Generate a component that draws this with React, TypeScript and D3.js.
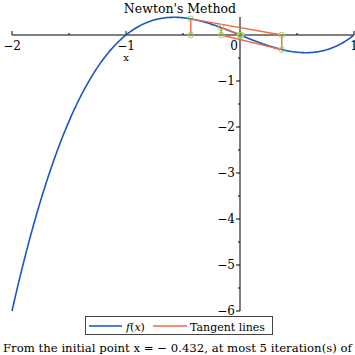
import React from "react";
import * as d3 from "d3";

// Polynomial coefficients of f(x) = x^3 - x (highest degree first)
const coefficients = [1, 0, -1, 0];
const initialPoint = -0.432;
const iterations = 5;
const xDomain = [-2, 1];
const yDomain = [0, -6];
const xMajorTicks = [-2, -1, 0, 1];
const xMinorTicks = [-1.5, -0.5, 0.5];
const yMajorTicks = [-1, -2, -3, -4, -5, -6];
const yMinorTicks = [-0.5, -1.5, -2.5, -3.5, -4.5, -5.5];
const legendLabels = ["f(x)", "Tangent lines"];
const title = "Newton's Method";
const captionStart = "From the initial point ";
const captionEnd =
  " = \u2212 0.432, at most 5 iteration(s) of Newton's method were applied.";

const f = (x: number) => coefficients.reduce((acc, c) => acc * x + c, 0);
const df = (x: number) => {
  const n = coefficients.length - 1;
  return coefficients
    .slice(0, n)
    .reduce((acc, c, i) => acc * x + c * (n - i), 0);
};

const BLUE = "#1a55c4";
const ORANGE = "#f4673f";
const GREEN = "#86e06a";
const FONT = "'DejaVu Serif', 'Liberation Serif', serif";

export default function App() {
  const x = d3.scaleLinear().domain(xDomain).range([12, 354]);
  const y = d3.scaleLinear().domain(yDomain).range([35, 311]);

  const samples = d3.range(0, 401).map((i) => {
    const xv = xDomain[0] + ((xDomain[1] - xDomain[0]) * i) / 400;
    return [xv, f(xv)] as [number, number];
  });
  const line = d3
    .line<[number, number]>()
    .x((d) => x(d[0]))
    .y((d) => y(d[1]));

  // Newton iterations
  const xs: number[] = [initialPoint];
  for (let i = 0; i < iterations; i++) {
    const xn = xs[xs.length - 1];
    const d = df(xn);
    if (d === 0) break;
    xs.push(xn - f(xn) / d);
  }
  const segments: [number, number, number, number][] = [];
  for (let i = 0; i < xs.length; i++) {
    segments.push([xs[i], 0, xs[i], f(xs[i])]);
    if (i < xs.length - 1) segments.push([xs[i], f(xs[i]), xs[i + 1], 0]);
  }

  const x0 = x(0);
  const y0 = y(0);

  const fmt = (v: number) => (v < 0 ? "\u2212" + Math.abs(v) : String(v));
  const ts = { fontFamily: FONT } as React.CSSProperties;

  return (
    <svg
      width={355}
      height={355}
      style={{ position: "absolute", left: 0, top: 0, background: "#fff", fontFamily: FONT }}
    >
      <rect width={355} height={355} fill="#fff" />
      {/* axes */}
      <line x1={x(xDomain[0])} x2={x(xDomain[1])} y1={y0} y2={y0} stroke="#000" strokeWidth={1} />
      <line x1={x0} x2={x0} y1={17} y2={y(-6)} stroke="#000" strokeWidth={1} />
      {xMajorTicks.map((t) => (
        <line key={"xm" + t} x1={x(t)} x2={x(t)} y1={y0} y2={y0 - 4} stroke="#000" />
      ))}
      {xMinorTicks.map((t) => (
        <line key={"xn" + t} x1={x(t)} x2={x(t)} y1={y0} y2={y0 - 2} stroke="#000" />
      ))}
      {yMajorTicks.map((t) => (
        <line key={"ym" + t} x1={x0} x2={x0 - 4} y1={y(t)} y2={y(t)} stroke="#000" />
      ))}
      {yMinorTicks.map((t) => (
        <line key={"yn" + t} x1={x0} x2={x0 - 2} y1={y(t)} y2={y(t)} stroke="#000" />
      ))}
      {xMajorTicks.map((t) => (
        <text
          key={"xl" + t}
          x={t === 0 ? x(t) - 6 : x(t)}
          y={50}
          fontSize={12}
          textAnchor="middle"
          style={ts}
        >
          {fmt(t)}
        </text>
      ))}
      {yMajorTicks.map((t) => (
        <text
          key={"yl" + t}
          x={x0 - 5}
          y={y(t) + 4}
          fontSize={12}
          textAnchor="end"
          style={ts}
        >
          {fmt(t)}
        </text>
      ))}
      <text x={126} y={61} fontSize={10} textAnchor="middle" style={ts}>
        x
      </text>
      {/* curve */}
      <path d={line(samples) || ""} fill="none" stroke={BLUE} strokeWidth={1.6} />
      {/* tangent lines */}
      {segments.map((s, i) => (
        <line
          key={"s" + i}
          x1={x(s[0])}
          y1={y(s[1])}
          x2={x(s[2])}
          y2={y(s[3])}
          stroke={ORANGE}
          strokeWidth={1.4}
        />
      ))}
      {xs.map((xv, i) => (
        <g key={"p" + i}>
          <circle cx={x(xv)} cy={y0} r={2.8} fill="none" stroke={GREEN} strokeWidth={1} />
          <circle cx={x(xv)} cy={y(f(xv))} r={2.8} fill="none" stroke={GREEN} strokeWidth={1} />
        </g>
      ))}
      {/* title */}
      <text x={180} y={13} fontSize={12.5} textAnchor="middle" style={ts}>
        {title}
      </text>
      {/* legend */}
      <rect x={85.5} y={316.5} width={187} height={18} fill="#fff" stroke="#444" strokeWidth={1} />
      <line x1={89} x2={122} y1={326} y2={326} stroke={BLUE} strokeWidth={1.6} />
      <text x={126} y={330.5} fontSize={11} style={ts}>
        <tspan fontStyle="italic">f</tspan>
        <tspan>(</tspan>
        <tspan fontStyle="italic">x</tspan>
        <tspan>)</tspan>
      </text>
      <line x1={153} x2={187} y1={326} y2={326} stroke={ORANGE} strokeWidth={1.6} />
      <text x={190} y={330.5} fontSize={11} style={ts}>
        {legendLabels[1]}
      </text>
      {/* caption */}
      <text x={3} y={352} fontSize={11.7} style={ts}>
        {captionStart}
        <tspan>x</tspan>
        {captionEnd}
      </text>
    </svg>
  );
}
